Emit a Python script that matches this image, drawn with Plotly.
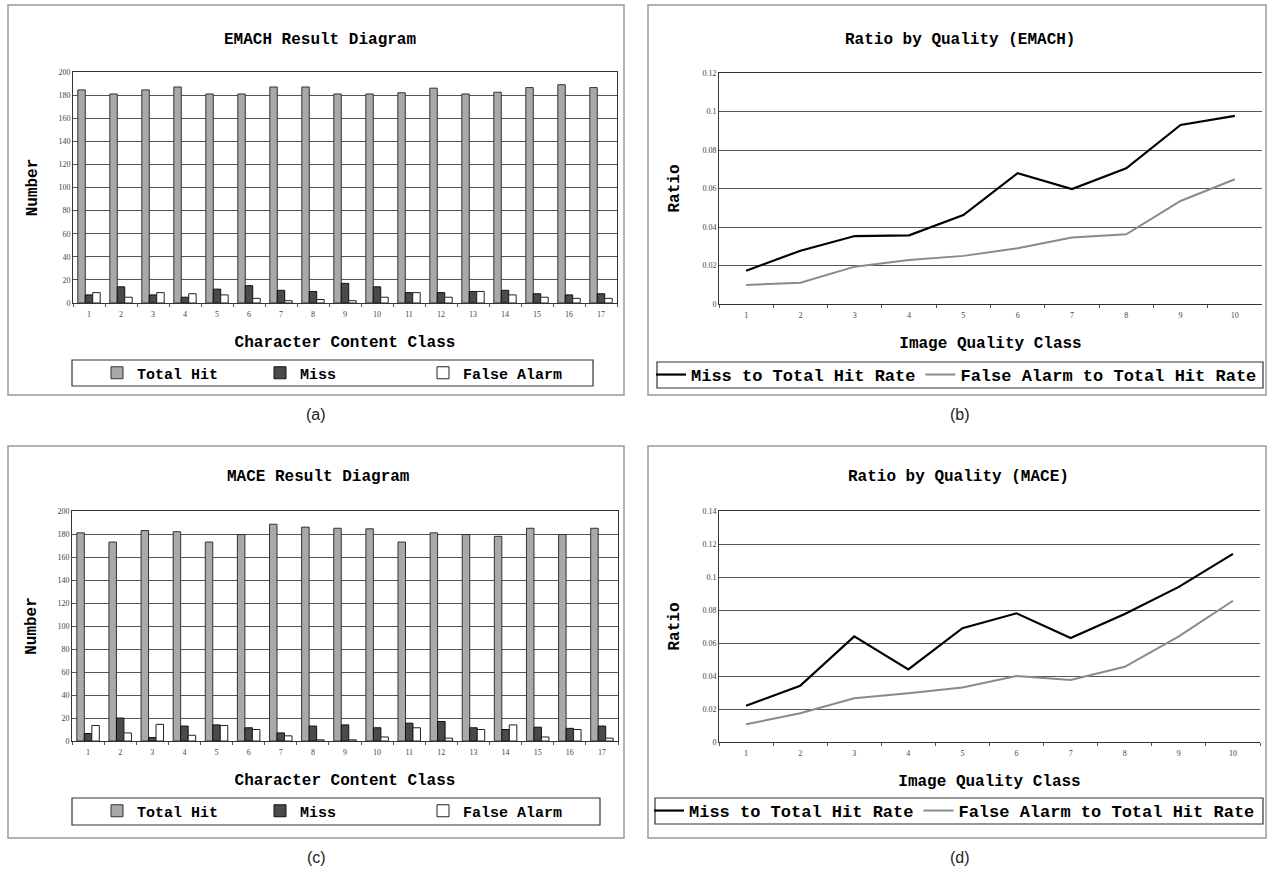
import plotly.graph_objects as go

W, H = 1267, 877

# ---------------- data ----------------
char_classes = [str(i) for i in range(1, 18)]
quality_classes = [str(i) for i in range(1, 11)]

emach_total_hit = [184.5, 181, 184.5, 187, 181, 181, 187, 187, 181, 181, 182, 186, 181, 182.5, 186.5, 189, 186.5]
emach_miss = [7, 14, 7, 5, 12, 15, 11, 10, 17, 14, 9, 9, 10, 11, 8, 7, 8]
emach_false_alarm = [9, 5, 9, 8, 7, 4, 2, 3, 2, 5, 9, 5, 10, 7, 5, 4, 4]

mace_total_hit = [181, 173, 183, 182, 173, 179.5, 188.5, 186, 185, 184.5, 173, 181, 179.5, 178, 185, 179.5, 185]
mace_miss = [6.5, 20, 3, 13, 14, 11.5, 7, 13, 14, 11.5, 15.5, 17, 11.5, 10, 12, 11, 13]
mace_false_alarm = [13.5, 7, 14.5, 5, 13.5, 10, 4.5, 1, 1, 3.5, 11.5, 2.5, 10, 14, 3.5, 10, 2.5]

emach_miss_rate = [0.0173, 0.0277, 0.0353, 0.0357, 0.0462, 0.068, 0.0597, 0.0705, 0.093, 0.0977]
emach_fa_rate = [0.0099, 0.011, 0.0194, 0.0229, 0.025, 0.029, 0.0346, 0.0362, 0.0535, 0.0648]
mace_miss_rate = [0.022, 0.034, 0.064, 0.044, 0.069, 0.078, 0.063, 0.0776, 0.094, 0.114]
mace_fa_rate = [0.0107, 0.0174, 0.0265, 0.0295, 0.033, 0.040, 0.0376, 0.0456, 0.064, 0.0856]

bar_titles = ["EMACH Result Diagram", "MACE Result Diagram"]
line_titles = ["Ratio by Quality (EMACH)", "Ratio by Quality (MACE)"]
panel_labels = ["(a)", "(b)", "(c)", "(d)"]

# ---------------- helpers (pixel -> paper) ----------------
def px(x):
    return x / W

def py(y):
    return 1 - y / H

MONO = "Liberation Mono"
TITLE_FONT = dict(family=MONO, size=16, color="black", weight="bold")
TICK_FONT = dict(family="Liberation Serif", size=8, color="#444")

fig = go.Figure()

# ---------------- bar panels ----------------
bar_sets = [
    (emach_total_hit, emach_miss, emach_false_alarm, "x", "y", "legend"),
    (mace_total_hit, mace_miss, mace_false_alarm, "x3", "y3", "legend3"),
]
for total, miss, fa, xa, ya, lg in bar_sets:
    fig.add_trace(go.Bar(x=char_classes, y=total, name="Total Hit", xaxis=xa, yaxis=ya, legend=lg,
                         marker=dict(color="#a9a9a9", line=dict(color="#333", width=1))))
    fig.add_trace(go.Bar(x=char_classes, y=miss, name="Miss", xaxis=xa, yaxis=ya, legend=lg,
                         marker=dict(color="#4a4a4a", line=dict(color="#111", width=1))))
    fig.add_trace(go.Bar(x=char_classes, y=fa, name="False Alarm", xaxis=xa, yaxis=ya, legend=lg,
                         marker=dict(color="white", line=dict(color="#222", width=1))))

# ---------------- line panels ----------------
line_sets = [
    (emach_miss_rate, emach_fa_rate, "x2", "y2", "legend2"),
    (mace_miss_rate, mace_fa_rate, "x4", "y4", "legend4"),
]
for miss, fa, xa, ya, lg in line_sets:
    fig.add_trace(go.Scatter(x=quality_classes, y=miss, name="Miss to Total Hit Rate", mode="lines",
                             xaxis=xa, yaxis=ya, legend=lg, line=dict(color="black", width=2.2)))
    fig.add_trace(go.Scatter(x=quality_classes, y=fa, name="False Alarm to Total Hit Rate", mode="lines",
                             xaxis=xa, yaxis=ya, legend=lg, line=dict(color="#8a8a8a", width=2)))

# ---------------- axes ----------------
def xaxis_cfg(x0, x1, anchor, title, rng):
    return dict(domain=[px(x0), px(x1)], anchor=anchor, type="category", range=rng,
                showline=True, linecolor="#333", linewidth=1, mirror=True,
                ticks="outside", tickson="boundaries", ticklen=3, tickcolor="#555",
                ticklabelstandoff=3,
                tickfont=TICK_FONT, showgrid=False, automargin=False,
                title=dict(text=title, font=TITLE_FONT, standoff=18))

def yaxis_cfg(y_top, y_bot, anchor, title, rng, dtick, mirror, standoff):
    return dict(domain=[py(y_bot), py(y_top)], anchor=anchor, range=rng, dtick=dtick,
                showline=True, linecolor="#333", linewidth=1, mirror=mirror,
                showgrid=True, gridcolor="#555", gridwidth=1, zeroline=False,
                ticks="", tickfont=TICK_FONT, automargin=False,
                title=dict(text=title, font=TITLE_FONT, standoff=standoff))

fig.update_layout(
    xaxis=xaxis_cfg(73, 617, "y", "Character Content Class", [-0.5, 16.5]),
    yaxis=yaxis_cfg(72, 303, "x", "Number", [0, 200], 20, True, 16),
    xaxis2=xaxis_cfg(719, 1262, "y2", "Image Quality Class", [-0.5, 9.5]),
    yaxis2=yaxis_cfg(73, 304, "x2", "Ratio", [0, 0.12], 0.02, False, 18),
    xaxis3=xaxis_cfg(72, 618, "y3", "Character Content Class", [-0.5, 16.5]),
    yaxis3=yaxis_cfg(511, 741, "x3", "Number", [0, 200], 20, True, 16),
    xaxis4=xaxis_cfg(719, 1260, "y4", "Image Quality Class", [-0.5, 9.5]),
    yaxis4=yaxis_cfg(511, 742, "x4", "Ratio", [0, 0.14], 0.02, False, 18),
)

# ---------------- legends ----------------
def legend_cfg(x, y_mid, entrywidth, size):
    return dict(x=px(x), y=py(y_mid), xanchor="left", yanchor="middle", orientation="h",
                borderwidth=0, bgcolor="rgba(0,0,0,0)",
                entrywidth=entrywidth, itemwidth=30, traceorder="normal",
                font=dict(family=MONO, size=size, color="black", weight="bold"))

fig.update_layout(
    legend=legend_cfg(97, 373, 118, 15),
    legend2=legend_cfg(651, 375, 0, 17),
    legend3=legend_cfg(97, 811, 118, 15),
    legend4=legend_cfg(649, 811, 0, 17),
)

# ---------------- frames, legend boxes, titles, labels ----------------
frames = [(8, 5, 624, 395), (648, 5, 1266, 395), (8, 446, 624, 838), (648, 446, 1266, 838)]
legend_boxes = [(72, 360, 593, 386), (657, 362, 1263, 388), (72, 798, 600, 825), (655, 798, 1263, 824)]
shapes = []
for x0, y0, x1, y1 in frames:
    shapes.append(dict(type="rect", xref="paper", yref="paper",
                       x0=px(x0), x1=px(x1), y0=py(y1), y1=py(y0),
                       line=dict(color="#9a9a9a", width=1.5), layer="below"))
for x0, y0, x1, y1 in legend_boxes:
    shapes.append(dict(type="rect", xref="paper", yref="paper",
                       x0=px(x0), x1=px(x1), y0=py(y1), y1=py(y0),
                       line=dict(color="#333", width=1.2), layer="below"))

annotations = []
title_pos = [(bar_titles[0], 320, 40), (line_titles[0], 960, 40),
             (bar_titles[1], 318, 477), (line_titles[1], 958, 477)]
for text, x, y in title_pos:
    annotations.append(dict(text=text, x=px(x), y=py(y), xref="paper", yref="paper",
                            showarrow=False, font=TITLE_FONT, xanchor="center", yanchor="middle"))
label_pos = [(316, 415), (960, 415), (316, 857), (960, 857)]
for text, (x, y) in zip(panel_labels, label_pos):
    annotations.append(dict(text=text, x=px(x), y=py(y), xref="paper", yref="paper",
                            showarrow=False, font=dict(family="Liberation Sans", size=16, color="#222"),
                            xanchor="center", yanchor="middle"))

fig.update_layout(
    width=W, height=H, autosize=False,
    margin=dict(l=0, r=0, t=0, b=0, autoexpand=False),
    paper_bgcolor="white", plot_bgcolor="white",
    barmode="group", bargap=0.3, bargroupgap=0.0,
    shapes=shapes, annotations=annotations,
    font=dict(family=MONO, color="black"),
)

fig.write_html("out.html", config={"displayModeBar": False},
               post_script="document.body.style.margin='0';document.body.style.overflow='hidden';")
